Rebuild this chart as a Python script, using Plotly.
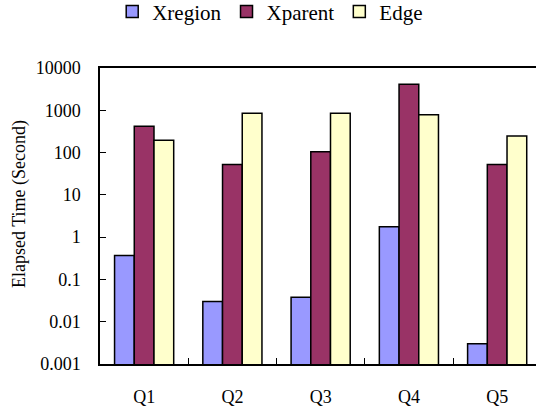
import plotly.graph_objects as go

queries = ["Q1", "Q2", "Q3", "Q4", "Q5"]
xregion = [0.37, 0.03, 0.038, 1.75, 0.003]
xparent = [420, 52, 105, 4100, 52]
edge = [195, 850, 850, 780, 245]

series_names = ["Xregion", "Xparent", "Edge"]
series_colors = ["#9999FF", "#993366", "#FFFFCC"]

y_tick_vals = [0.001, 0.01, 0.1, 1, 10, 100, 1000, 10000]
y_tick_text = ["0.001", "0.01", "0.1", "1", "10", "100", "1000", "10000"]

FONT = "Liberation Serif, Times New Roman, serif"

fig = go.Figure()
for name, vals, color in zip(series_names, [xregion, xparent, edge], series_colors):
    fig.add_trace(go.Bar(
        x=queries, y=vals, name=name,
        marker=dict(color=color, line=dict(color="black", width=1.5)),
    ))

fig.update_layout(
    width=536, height=409,
    margin=dict(l=100, r=0, t=68, b=45, autoexpand=False),
    paper_bgcolor="white", plot_bgcolor="white",
    barmode="group", bargap=0.33, bargroupgap=0,
    font=dict(family=FONT, size=18, color="black"),
    showlegend=True,
    legend=dict(
        orientation="h", x=0.028, xanchor="left", y=1.19, yanchor="middle",
        font=dict(family=FONT, size=21, color="black"),
        itemwidth=30, tracegroupgap=0, bgcolor="rgba(0,0,0,0)",
    ),
    annotations=[dict(
        text="Elapsed Time (Second)", textangle=-90,
        xref="paper", yref="paper", x=-0.1846, y=0.539,
        xanchor="center", yanchor="middle", showarrow=False,
        font=dict(family=FONT, size=18, color="black"),
    )],
)

fig.update_xaxes(
    type="category", range=[-0.5, 4.44],
    showline=True, linecolor="black", linewidth=1.5, mirror=True,
    ticks="inside", tickson="boundaries", ticklen=6, tickcolor="black", tickwidth=1,
    ticklabelstandoff=16, showgrid=False, zeroline=False,
    tickfont=dict(family=FONT, size=18, color="black"),
)
fig.update_yaxes(
    type="log", range=[-3, 4],
    tickvals=y_tick_vals, ticktext=y_tick_text,
    showline=True, linecolor="black", linewidth=1.5,
    ticks="inside", ticklen=6, tickcolor="black", tickwidth=1,
    ticklabelstandoff=14, showgrid=False, zeroline=False,
    tickfont=dict(family=FONT, size=18, color="black"),
)

fig.write_html("out.html")
